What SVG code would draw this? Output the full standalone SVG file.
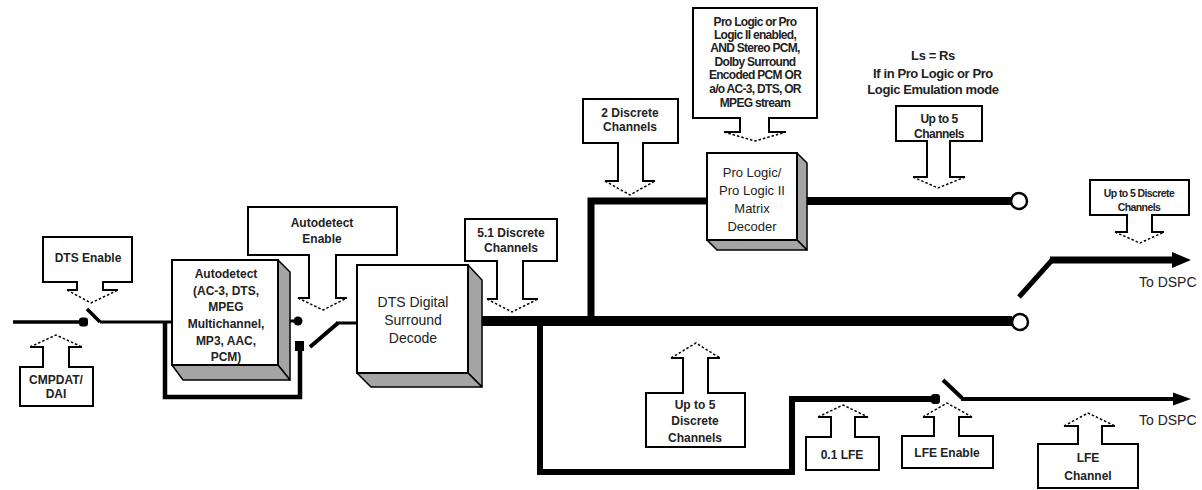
<svg xmlns="http://www.w3.org/2000/svg" width="1202" height="490" viewBox="0 0 1202 490">
<style>
.ol{fill:none;stroke:#000;stroke-width:2;stroke-linejoin:miter}
.fl{fill:#fff;stroke:none}
.dh{fill:none;stroke:#000;stroke-width:1.5;stroke-dasharray:2.5 2}
.t{font-family:"Liberation Sans",Arial,sans-serif;font-weight:bold;font-size:12px;fill:#222;text-anchor:middle;dominant-baseline:central}
.ts{font-family:"Liberation Sans",Arial,sans-serif;font-weight:bold;font-size:12px;fill:#222;text-anchor:middle;dominant-baseline:central;letter-spacing:-0.7px}
.tb{font-family:"Liberation Sans",Arial,sans-serif;font-size:14px;fill:#222;text-anchor:middle;dominant-baseline:central}
.to{font-family:"Liberation Sans",Arial,sans-serif;font-size:14px;fill:#222;dominant-baseline:central}
.front{fill:#fff;stroke:#000;stroke-width:2}
.side{fill:#a4a4a4;stroke:#000;stroke-width:1.5;stroke-linejoin:round}
.w{fill:none;stroke:#000;stroke-linecap:butt;stroke-linejoin:miter}
.circ{fill:#fff;stroke:#000;stroke-width:2.5}
</style>

<g id="connectors">
  <path class="w" stroke-width="3.5" d="M13,322 H83"/>
  <rect x="79" y="317.5" width="9" height="9" rx="3" fill="#000"/>
  <path class="w" stroke-width="3.5" d="M87,309 L100,322"/>
  <path class="w" stroke-width="3" d="M100,322 H172"/>
  <path class="w" stroke-width="4.5" d="M165,322 V397 H300 V346"/>
  <rect x="295" y="341" width="9" height="10" fill="#000"/>
  <path class="w" stroke-width="3" d="M288,321 H298"/>
  <circle cx="298" cy="321" r="4.5" fill="#000"/>
  <path class="w" stroke-width="4" d="M310,347 L338,323"/>
  <path class="w" stroke-width="3" d="M336,323 H357"/>
  <path class="w" stroke-width="10" d="M472,321 H1012"/>
  <circle class="circ" cx="1020" cy="322" r="8"/>
  <path class="w" stroke-width="7" d="M591,321 V201 H707"/>
  <path class="w" stroke-width="8" d="M807,201 H1011"/>
  <circle class="circ" cx="1019" cy="201" r="8"/>
  <path class="w" stroke-width="5" d="M1019,297 L1053,259"/>
  <path class="w" stroke-width="7" d="M1050,260 H1178"/>
  <polygon points="1172,252 1191,260 1172,268" fill="#000"/>
  <path class="w" stroke-width="6" d="M540,321 V472 H792 V399 H936"/>
  <rect x="931" y="394" width="9" height="10" rx="3" fill="#000"/>
  <path class="w" stroke-width="4" d="M943,380 L962,398"/>
  <path class="w" stroke-width="4" d="M961,399 H1178"/>
  <polygon points="1173,392.5 1191,399 1173,405.5" fill="#000"/>
</g>

<g id="to-dspc-top"><text class="to" x="1139" y="282">To DSPC</text></g>
<g id="to-dspc-bottom"><text class="to" x="1139" y="420">To DSPC</text></g>

<g id="autodetect">
  <polygon class="side" points="278,260 290,272 290,380 278,365"/>
  <polygon class="side" points="172,365 183,380 290,380 278,365"/>
  <rect class="front" x="172" y="260" width="106" height="105"/>
  <text class="t" x="226" y="274">Autodetect</text>
  <text class="t" x="226" y="291">(AC-3, DTS,</text>
  <text class="t" x="226" y="307">MPEG</text>
  <text class="t" x="226" y="324">Multichannel,</text>
  <text class="t" x="226" y="341">MP3, AAC,</text>
  <text class="t" x="226" y="357">PCM)</text>
</g>

<g id="dts-decode">
  <polygon class="side" points="468,265 482,280 482,387 468,373"/>
  <polygon class="side" points="357,373 371,387 482,387 468,373"/>
  <rect class="front" x="357" y="265" width="111" height="108"/>
  <text class="tb" x="413" y="302">DTS Digital</text>
  <text class="tb" x="413" y="320">Surround</text>
  <text class="tb" x="413" y="338">Decode</text>
</g>

<g id="prologic-decoder">
  <polygon class="side" points="797,153 807,163 807,250 797,240"/>
  <polygon class="side" points="707,240 717,250 807,250 797,240"/>
  <rect class="front" x="707" y="153" width="90" height="87"/>
  <text class="t" x="752" y="172" style="font-weight:normal;font-size:13px">Pro Logic/</text>
  <text class="t" x="752" y="190" style="font-weight:normal;font-size:13px">Pro Logic II</text>
  <text class="t" x="752" y="208" style="font-weight:normal;font-size:13px">Matrix</text>
  <text class="t" x="752" y="226" style="font-weight:normal;font-size:13px">Decoder</text>
</g>

<g id="dts-enable">
  <path class="fl" d="M43,237 H132 V282 H103 V290 H118 L91,303 L67,290 H77 V282 H43 Z"/>
  <path class="ol" d="M67,290 H77 V282 H43 V237 H132 V282 H103 V290 H118"/>
  <path class="dh" d="M67,290 L91,303 L118,290"/>
  <text class="t" x="88" y="258">DTS Enable</text>
</g>

<g id="autodetect-enable">
  <path class="fl" d="M248,207 H397 V255 H336 V298 H347 L323,310 L298,298 H309 V255 H248 Z"/>
  <path class="ol" d="M298,298 H309 V255 H248 V207 H397 V255 H336 V298 H347"/>
  <path class="dh" d="M298,298 L323,310 L347,298"/>
  <text class="t" x="322" y="223">Autodetect</text>
  <text class="t" x="322" y="239">Enable</text>
</g>

<g id="discrete-51">
  <path class="fl" d="M465,219 H557 V261 H523 V299 H538 L512,312 L487,299 H497 V261 H465 Z"/>
  <path class="ol" d="M487,299 H497 V261 H465 V219 H557 V261 H523 V299 H538"/>
  <path class="dh" d="M487,299 L512,312 L538,299"/>
  <text class="t" x="511" y="233">5.1 Discrete</text>
  <text class="t" x="511" y="248">Channels</text>
</g>

<g id="discrete-2">
  <path class="fl" d="M583,99 H678 V143 H643 V181 H655 L630,195 L605,181 H618 V143 H583 Z"/>
  <path class="ol" d="M605,181 H618 V143 H583 V99 H678 V143 H643 V181 H655"/>
  <path class="dh" d="M605,181 L630,195 L655,181"/>
  <text class="t" x="630" y="113">2 Discrete</text>
  <text class="t" x="630" y="127">Channels</text>
</g>

<g id="prologic-condition">
  <path class="fl" d="M693,8 H817 V118 H769 V132 H786 L755,141 L724,132 H740 V118 H693 Z"/>
  <path class="ol" d="M724,132 H740 V118 H693 V8 H817 V118 H769 V132 H786"/>
  <path class="dh" d="M724,132 L755,141 L786,132"/>
  <text class="ts" x="755" y="22">Pro Logic or Pro</text>
  <text class="ts" x="755" y="35">Logic II enabled,</text>
  <text class="ts" x="755" y="48">AND Stereo PCM,</text>
  <text class="ts" x="755" y="62">Dolby Surround</text>
  <text class="ts" x="755" y="75">Encoded PCM OR</text>
  <text class="ts" x="755" y="89">a/o AC-3, DTS, OR</text>
  <text class="ts" x="755" y="103">MPEG stream</text>
</g>

<g id="ls-rs-note">
  <text class="t" x="933" y="55" style="font-size:13px;letter-spacing:-0.4px">Ls = Rs</text>
  <text class="t" x="933" y="73" style="font-size:13px;letter-spacing:-0.4px">If in Pro Logic or Pro</text>
  <text class="t" x="933" y="89" style="font-size:13px;letter-spacing:-0.4px">Logic Emulation mode</text>
</g>

<g id="upto5-channels">
  <path class="fl" d="M896,106 H982 V141 H950 V177 H965 L938,188 L913,177 H927 V141 H896 Z"/>
  <path class="ol" d="M913,177 H927 V141 H896 V106 H982 V141 H950 V177 H965"/>
  <path class="dh" d="M913,177 L938,188 L965,177"/>
  <text class="t" x="939" y="119" style="letter-spacing:-0.5px">Up to 5</text>
  <text class="t" x="939" y="134" style="letter-spacing:-0.5px">Channels</text>
</g>

<g id="upto5-discrete-right">
  <path class="fl" d="M1090,180 H1189 V215 H1152 V232 H1164 L1140,243 L1115,232 H1127 V215 H1090 Z"/>
  <path class="ol" d="M1115,232 H1127 V215 H1090 V180 H1189 V215 H1152 V232 H1164"/>
  <path class="dh" d="M1115,232 L1140,243 L1164,232"/>
  <text class="ts" x="1139" y="193" style="font-size:10.5px;letter-spacing:-0.6px">Up to 5 Discrete</text>
  <text class="ts" x="1139" y="207" style="font-size:10.5px;letter-spacing:-0.6px">Channels</text>
</g>

<g id="cmpdat-dai">
  <path class="fl" d="M20,367 H43 V347 H30 L56,335 L82,347 H69 V367 H93 V406 H20 Z"/>
  <path class="ol" d="M30,347 H43 V367 H20 V406 H93 V367 H69 V347 H82"/>
  <path class="dh" d="M30,347 L56,335 L82,347"/>
  <text class="t" x="56" y="380">CMPDAT/</text>
  <text class="t" x="56" y="394">DAI</text>
</g>

<g id="upto5-discrete-mid">
  <path class="fl" d="M646,393 H683 V358 H671 L696,343 L720,358 H708 V393 H745 V447 H646 Z"/>
  <path class="ol" d="M671,358 H683 V393 H646 V447 H745 V393 H708 V358 H720"/>
  <path class="dh" d="M671,358 L696,343 L720,358"/>
  <text class="t" x="695" y="405">Up to 5</text>
  <text class="t" x="695" y="421">Discrete</text>
  <text class="t" x="695" y="438">Channels</text>
</g>

<g id="lfe-01">
  <path class="fl" d="M806,437 H831 V417 H818 L843,405 L868,417 H855 V437 H879 V470 H806 Z"/>
  <path class="ol" d="M818,417 H831 V437 H806 V470 H879 V437 H855 V417 H868"/>
  <path class="dh" d="M818,417 L843,405 L868,417"/>
  <text class="t" x="842" y="455">0.1 LFE</text>
</g>

<g id="lfe-enable">
  <path class="fl" d="M902,436 H934 V417 H923 L947,403 L972,417 H959 V436 H993 V468 H902 Z"/>
  <path class="ol" d="M923,417 H934 V436 H902 V468 H993 V436 H959 V417 H972"/>
  <path class="dh" d="M923,417 L947,403 L972,417"/>
  <text class="t" x="947" y="453">LFE Enable</text>
</g>

<g id="lfe-channel">
  <path class="fl" d="M1038,444 H1078 V426 H1064 L1088,413 L1115,426 H1102 V444 H1138 V488 H1038 Z"/>
  <path class="ol" d="M1064,426 H1078 V444 H1038 V488 H1138 V444 H1102 V426 H1115"/>
  <path class="dh" d="M1064,426 L1088,413 L1115,426"/>
  <text class="t" x="1088" y="458">LFE</text>
  <text class="t" x="1088" y="476">Channel</text>
</g>
</svg>
